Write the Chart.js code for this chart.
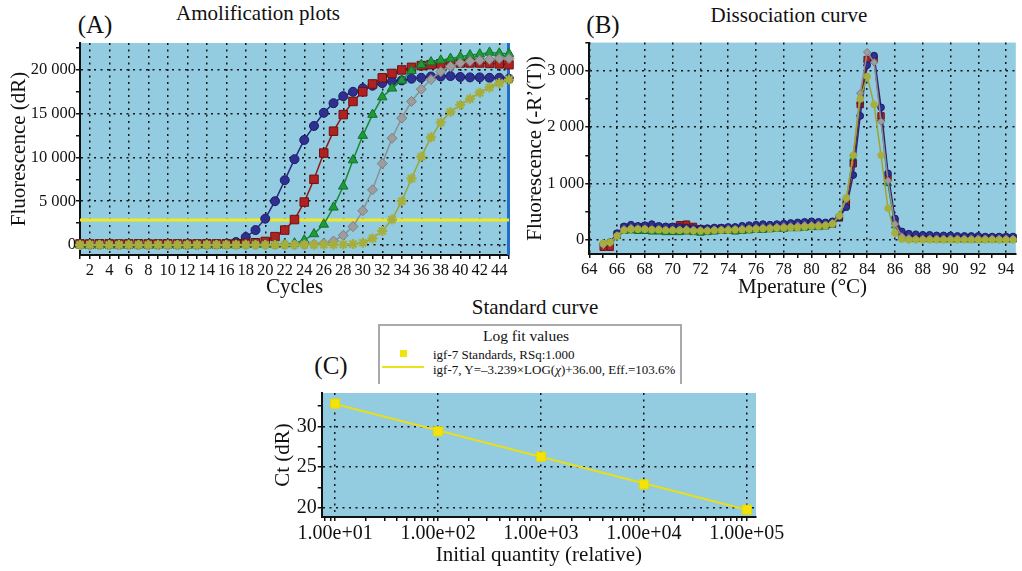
<!DOCTYPE html>
<html>
<head>
<meta charset="utf-8">
<script src="https://cdn.jsdelivr.net/npm/chart.js@4.4.1/dist/chart.umd.min.js"></script>
<style>
  html, body { margin: 0; background: #fff; }
  body { width: 1022px; height: 571px; position: relative; overflow: hidden;
         font-family: 'Liberation Serif', 'Times New Roman', serif; color: #111; }
  .panel { position: absolute; }
  .lbl { position: absolute; transform: translate(-50%, -50%); white-space: nowrap; line-height: 1; }
  .letter { font-size: 25px; }
  .ttl { font-size: 21px; }
  #legend-c { position: absolute; left: 378px; top: 324px; width: 300px; height: 58px;
              border: 2px solid #a9a9a9; border-bottom: none; background: #fff; z-index: 2; }
  #legend-c .t { position: absolute; left: 146px; top: 10px; transform: translate(-50%, -50%);
                 font-size: 15.5px; line-height: 1; white-space: nowrap; }
  #legend-c .row { position: absolute; left: 53px; transform: translateY(-50%);
                   font-size: 13px; line-height: 1; white-space: nowrap; }
  #legend-c .mark { position: absolute; left: 20px; top: 24px; width: 7px; height: 7px; background: #f0e40a; }
  #legend-c .line { position: absolute; left: 2px; top: 40px; width: 42px; height: 2px; background: #ece21c; }
</style>
</head>
<body>

<div class="lbl letter" style="left:95px;top:23.5px">(A)</div>
<div class="lbl ttl" style="left:258px;top:13px">Amolification plots</div>
<div class="lbl letter" style="left:603px;top:23.5px">(B)</div>
<div class="lbl ttl" style="left:789px;top:14.5px">Dissociation curve</div>
<div class="lbl ttl" style="left:535px;top:306.5px">Standard curve</div>
<div class="lbl letter" style="left:331px;top:365px">(C)</div>

<div id="legend-c">
  <div class="t">Log fit values</div>
  <div class="mark"></div>
  <div class="row" style="top:28px">igf-7 Standards, RSq:1.000</div>
  <div class="line"></div>
  <div class="row" style="top:43px">igf-7, Y=–3.239×LOG(<i>χ</i>)+36.00, Eff.=103.6%</div>
</div>

<div class="panel" style="left:0;top:0;width:530px;height:300px"><canvas id="chart-amp"></canvas></div>
<div class="panel" style="left:520px;top:0;width:502px;height:300px"><canvas id="chart-diss"></canvas></div>
<div class="panel" style="left:250px;top:380px;width:540px;height:191px"><canvas id="chart-std"></canvas></div>

<script>
// (A) amplification plots, fluorescence (dR) per cycle
const cycles = [1, 2, 3, 4, 5, 6, 7, 8, 9, 10, 11, 12, 13, 14, 15, 16, 17, 18, 19, 20, 21, 22, 23,
  24, 25, 26, 27, 28, 29, 30, 31, 32, 33, 34, 35, 36, 37, 38, 39, 40, 41, 42, 43, 44, 45]
const ampBlue  = [60, 40, 50, 40, 30, 50, 40, 30, 40, 50, 40, 30, 40, 60, 80, 150, 330, 900, 1700, 3000,
  5000, 7400, 9800, 12000, 13600, 15100, 16200, 17000, 17500, 17900, 18200, 18500, 18700, 18800, 19000,
  19100, 19250, 19250, 19300, 19200, 19150, 19150, 19100, 19100, 19000]
const ampRed   = [120, 110, 130, 120, 110, 120, 130, 110, 120, 130, 120, 110, 120, 130, 120, 130, 140, 180,
  250, 400, 950, 1700, 2900, 4900, 7500, 10500, 13000, 14900, 16400, 17500, 18400, 19100, 19600, 20000,
  20300, 20500, 20600, 20700, 20750, 20800, 20800, 20800, 20750, 20700, 20600]
const ampGreen = [20, 0, 10, 20, 0, 10, 20, 0, 10, 20, 0, 10, 20, 0, 10, 20, 30, 20, 30, 40, 50, 80,
  200, 550, 1250, 2350, 4300, 6700, 9700, 12500, 14900, 16900, 17900, 18800, 19900, 20600, 20900, 21100,
  21300, 21500, 21700, 21800, 22000, 21900, 21850]
const ampGray  = [0, -10, 10, 0, -10, 10, 0, -10, 10, 0, -10, 10, 0, -10, 0, 10, 0, -10, 0, 10, 0, 10, 20,
  40, 80, 180, 450, 1100, 2100, 3900, 6300, 9300, 12200, 14500, 16400, 17800, 18900, 19800, 20400, 20800,
  21000, 21100, 21200, 21300, 21300]
const ampOlive = [0, 10, 0, -10, 0, 10, 0, -10, 0, 10, 0, -10, 0, 10, 0, -10, 0, 10, 0, -10, 0, 10, 0, 0,
  10, 20, 30, 50, 100, 250, 750, 1600, 2900, 5000, 7600, 10100, 12300, 14000, 15200, 16000, 16700, 17400,
  18000, 18500, 18900]
const threshold = 2850
const ampXLabels = [2, 4, 6, 8, 10, 12, 14, 16, 18, 20, 22, 24, 26, 28, 30, 32, 34, 36, 38, 40, 42, 44]
const ampYTicks = [0, 2500, 5000, 7500, 10000, 12500, 15000, 17500, 20000, 22500]
const ampYLabels = [0, 5000, 10000, 15000, 20000]

// (B) dissociation curve, -R'(T) per temperature
const temps = [65, 65.5, 66, 66.5, 67, 67.5, 68, 68.5, 69, 69.5, 70, 70.5, 71, 71.5, 72, 72.5, 73, 73.5,
  74, 74.5, 75, 75.5, 76, 76.5, 77, 77.5, 78, 78.5, 79, 79.5, 80, 80.5, 81, 81.5, 82, 82.5, 83, 83.5, 84,
  84.5, 85, 85.5, 86, 86.5, 87, 87.5, 88, 88.5, 89, 89.5, 90, 90.5, 91, 91.5, 92, 92.5, 93, 93.5, 94, 94.5]
const dissBlue  = [-70, -40, 120, 240, 270, 250, 260, 280, 250, 240, 240, 230, 220, 210, 200, 210, 220, 220,
  230, 230, 250, 260, 270, 280, 270, 280, 290, 300, 310, 320, 330, 320, 310, 330, 400, 580, 1150, 2200, 3100,
  3270, 2350, 1180, 380, 150, 110, 100, 90, 90, 80, 80, 80, 70, 70, 70, 70, 60, 60, 60, 60, 60]
const dissRed   = [-130, -130, 100, 220, 240, 230, 240, 220, 230, 220, 230, 270, 280, 240, 200, 190, 200, 210,
  200, 200, 210, 220, 230, 240, 230, 240, 250, 260, 260, 270, 280, 270, 270, 290, 390, 650, 1350, 2400, 3200,
  3200, 2200, 1100, 330, 90, 60, 50, 50, 50, 40, 40, 40, 40, 40, 40, 40, 40, 40, 40, 40, 40]
const dissGreen = [-60, -50, 60, 150, 160, 150, 150, 140, 140, 130, 130, 130, 140, 130, 120, 130, 140, 150,
  150, 140, 150, 160, 170, 170, 180, 190, 190, 200, 200, 210, 220, 220, 230, 260, 410, 700, 1450, 2450, 3200,
  3200, 2150, 1000, 250, 40, 20, 10, 10, 10, 0, 0, 0, 0, 0, 0, 0, 0, 0, 0, 0, 0]
const dissGray  = [-90, -60, 80, 190, 210, 200, 200, 190, 190, 180, 180, 180, 190, 180, 170, 170, 180, 180,
  190, 190, 200, 200, 210, 220, 220, 230, 240, 240, 250, 260, 260, 270, 270, 300, 430, 720, 1500, 2600, 3330,
  3150, 2100, 1050, 280, 60, 30, 20, 20, 20, 20, 20, 20, 20, 20, 20, 20, 20, 20, 20, 20, 20]
const dissOlive = [-60, -40, 70, 170, 190, 190, 190, 180, 180, 170, 170, 170, 170, 160, 160, 160, 170, 170,
  170, 180, 180, 190, 190, 200, 200, 210, 210, 220, 220, 230, 240, 240, 250, 280, 430, 750, 1500, 2500, 2900,
  2400, 1500, 560, 120, 10, 0, 0, 0, 0, 0, 0, 0, 0, 0, 0, 0, 0, 0, 0, 0, 0]
const dissXTicks = [64, 65, 66, 67, 68, 69, 70, 71, 72, 73, 74, 75, 76, 77, 78, 79, 80, 81, 82, 83, 84, 85,
  86, 87, 88, 89, 90, 91, 92, 93, 94]
const dissYTicks = [0, 500, 1000, 1500, 2000, 2500, 3000, 3500]

// (C) standard curve
const quantity = [10, 100, 1000, 10000, 100000]
const ctValues = [32.8, 29.4, 26.3, 22.9, 19.8]
const fitX = [10, 100000]
const fitY = [32.76, 19.80]
const stdXTicks  = [10, 100, 1000, 10000, 100000]
const stdXLabels = ['1.00e+01', '1.00e+02', '1.00e+03', '1.00e+04', '1.00e+05']
const stdYTicks  = [20, 22.5, 25, 27.5, 30, 32.5]

const SERIF = "'Liberation Serif', 'Times New Roman', serif"
const PLOT_BG = '#93cce0'
const SERIES = {
  blue:  { fill: '#2f2f90', edge: '#1c1c66', line: '#26267a', style: 'circle',   r: 4.5 },
  red:   { fill: '#b02222', edge: '#6e1010', line: '#8e1818', style: 'rect',     r: 6 },
  green: { fill: '#1f9a3a', edge: '#137028', line: '#1a8a32', style: 'triangle', r: 5.5 },
  gray:  { fill: '#9d9d9d', edge: '#7f7f7f', line: '#8f8f8f', style: 'rectRot',  r: 5 },
  olive: { fill: '#a6ae3c', edge: '#8f9a2c', line: '#9ca534', style: 'star',     r: 5 }
}

Chart.defaults.font.family = SERIF
Chart.defaults.color = '#111'

const plotBg = {
  id: 'plotBg',
  beforeDraw(chart, args, opts) {
    const { ctx, chartArea: a } = chart
    ctx.save()
    ctx.fillStyle = opts.color
    ctx.fillRect(a.left, a.top, a.right - a.left, a.bottom - a.top)
    ctx.restore()
  }
}

const cursorLine = {
  id: 'cursorLine',
  beforeDatasetsDraw(chart, args, opts) {
    const { ctx, chartArea: a } = chart
    const x = chart.scales.x.getPixelForValue(opts.value)
    ctx.save()
    ctx.strokeStyle = opts.color
    ctx.lineWidth = 3
    ctx.beginPath()
    ctx.moveTo(x - 0.5, a.top)
    ctx.lineTo(x - 0.5, a.bottom)
    ctx.stroke()
    ctx.restore()
  }
}

const axisBorder = { display: true, color: '#111', width: 2, dash: [2, 4.5] }

function gridFor(isMajor) {
  return {
    color: c => (c.tick && isMajor(c.tick.value)) ? '#151515' : 'rgba(0,0,0,0)',
    lineWidth: 1.5,
    tickColor: '#111',
    tickLength: 4,
    tickWidth: 1.5
  }
}

function font(size, lineHeight) {
  return { family: SERIF, size, lineHeight: lineHeight || 1.2 }
}

function fmtThousands(v) {
  return String(v).replace(/\B(?=(\d{3})+(?!\d))/g, ' ')
}

function seriesDataset(s, xs, ys, scale) {
  return {
    data: xs.map((x, i) => ({ x, y: ys[i] })),
    borderColor: s.line,
    borderWidth: 1.5,
    pointStyle: s.style,
    pointRadius: s.r * scale,
    pointBackgroundColor: s.fill,
    pointBorderColor: s.style === 'star' ? s.fill : s.edge,
    pointBorderWidth: s.style === 'star' ? 2.2 : 1,
    tension: 0,
    clip: false
  }
}

const baseOptions = {
  responsive: true,
  maintainAspectRatio: false,
  animation: false,
  events: [],
  plugins: { legend: { display: false }, tooltip: { enabled: false } }
}

function renderAmplification() {
  const ctx = document.getElementById('chart-amp').getContext('2d')
  new Chart(ctx, {
    type: 'line',
    data: {
      datasets: [
        seriesDataset(SERIES.olive, cycles, ampOlive, 1),
        seriesDataset(SERIES.gray, cycles, ampGray, 1),
        seriesDataset(SERIES.green, cycles, ampGreen, 1),
        seriesDataset(SERIES.red, cycles, ampRed, 1),
        seriesDataset(SERIES.blue, cycles, ampBlue, 1),
        {
          data: [{ x: cycles[0], y: threshold }, { x: cycles[cycles.length - 1], y: threshold }],
          borderColor: '#f3e81c', borderWidth: 3, pointRadius: 0
        }
      ]
    },
    options: {
      ...baseOptions,
      layout: { padding: { top: 43, right: 21, left: 0, bottom: 0 } },
      plugins: { ...baseOptions.plugins, plotBg: { color: PLOT_BG }, cursorLine: { value: 45, color: '#1f6fc6' } },
      scales: {
        x: {
          type: 'linear', min: 1, max: 45,
          afterBuildTicks: s => { s.ticks = cycles.map(v => ({ value: v })) },
          afterFit: s => { s.height = 45 },
          ticks: { autoSkip: false, maxRotation: 0, padding: 2, font: font(16.5),
                   callback: v => ampXLabels.includes(v) ? String(v) : '' },
          grid: gridFor(v => ampXLabels.includes(v)),
          border: axisBorder,
          title: { display: true, text: 'Cycles', font: font(21, 1), padding: { top: 0, bottom: 2 } }
        },
        y: {
          min: -1150, max: 23080,
          afterBuildTicks: s => { s.ticks = ampYTicks.map(v => ({ value: v })) },
          afterFit: s => { s.width = 80 },
          ticks: { autoSkip: false, padding: 0, font: font(16.5),
                   callback: v => ampYLabels.includes(v) ? fmtThousands(v) : '' },
          grid: gridFor(v => ampYLabels.includes(v)),
          border: axisBorder,
          title: { display: true, text: 'Fluorescence (dR)', font: font(21, 1), padding: { top: 8.5, bottom: 0 } }
        }
      }
    },
    plugins: [plotBg, cursorLine]
  })
}

function renderDissociation() {
  const ctx = document.getElementById('chart-diss').getContext('2d')
  new Chart(ctx, {
    type: 'line',
    data: {
      datasets: [
        seriesDataset(SERIES.olive, temps, dissOlive, 0.75),
        seriesDataset(SERIES.gray, temps, dissGray, 0.75),
        seriesDataset(SERIES.blue, temps, dissBlue, 0.75),
        seriesDataset(SERIES.red, temps, dissRed, 0.75),
        seriesDataset(SERIES.green, temps, dissGreen, 0.75)
      ]
    },
    options: {
      ...baseOptions,
      layout: { padding: { top: 42.6, right: 2, left: 0, bottom: 0 } },
      plugins: { ...baseOptions.plugins, plotBg: { color: PLOT_BG } },
      scales: {
        x: {
          type: 'linear', min: 64, max: 94.7,
          afterBuildTicks: s => { s.ticks = dissXTicks.map(v => ({ value: v })) },
          afterFit: s => { s.height = 46 },
          ticks: { autoSkip: false, maxRotation: 0, padding: 2, font: font(16.5),
                   callback: v => v % 2 === 0 ? String(v) : '' },
          grid: gridFor(v => v % 2 === 0),
          border: axisBorder,
          title: { display: true, text: 'Mperature (°C)', font: font(21, 1), padding: { top: 0, bottom: 2 } }
        },
        y: {
          min: -250, max: 3500,
          afterBuildTicks: s => { s.ticks = dissYTicks.map(v => ({ value: v })) },
          afterFit: s => { s.width = 69.3 },
          ticks: { autoSkip: false, padding: 1, font: font(16.5),
                   callback: v => (v % 1000 === 0 && v < 3500) ? fmtThousands(v) : '' },
          grid: gridFor(v => v % 1000 === 0 && v < 3500),
          border: axisBorder,
          title: { display: true, text: 'Fluorescence (-R’(T))', font: font(21, 1), padding: { top: 4.5, bottom: 0 } }
        }
      }
    },
    plugins: [plotBg]
  })
}

function renderStandard() {
  const ctx = document.getElementById('chart-std').getContext('2d')
  // minor log ticks 2..9 in each decade inside the axis range
  const minor = []
  for (let d = 1; d <= 100000; d *= 10) {
    for (let k = 2; k <= 9; k++) {
      const v = d * k
      if (v > 7.4 && v < 123000) minor.push(v)
    }
  }
  const allTicks = [...stdXTicks, ...minor].sort((a, b) => a - b)
  new Chart(ctx, {
    type: 'line',
    data: {
      datasets: [
        {
          data: quantity.map((q, i) => ({ x: q, y: ctValues[i] })),
          showLine: false, pointStyle: 'rect', pointRadius: 6.5,
          pointBackgroundColor: '#f2e40a', pointBorderColor: '#e6d800', pointBorderWidth: 1, clip: false
        },
        {
          data: fitX.map((q, i) => ({ x: q, y: fitY[i] })),
          borderColor: '#e8de1c', borderWidth: 2, pointRadius: 0
        }
      ]
    },
    options: {
      ...baseOptions,
      layout: { padding: { top: 10, right: 34, left: 0, bottom: 0 } },
      plugins: { ...baseOptions.plugins, plotBg: { color: PLOT_BG } },
      scales: {
        x: {
          type: 'logarithmic', min: 7.4, max: 123000,
          afterBuildTicks: s => { s.ticks = allTicks.map(v => ({ value: v })) },
          afterFit: s => { s.height = 54 },
          ticks: { autoSkip: false, maxRotation: 0, padding: 1, font: font(20),
                   callback: v => { const i = stdXTicks.indexOf(v); return i >= 0 ? stdXLabels[i] : '' } },
          grid: gridFor(v => stdXTicks.includes(v)),
          border: axisBorder,
          title: { display: true, text: 'Initial quantity (relative)', font: font(21, 1), padding: { top: 0, bottom: 5.5 } }
        },
        y: {
          min: 18.9, max: 34.1,
          afterBuildTicks: s => { s.ticks = stdYTicks.map(v => ({ value: v })) },
          afterFit: s => { s.width = 71.7 },
          ticks: { autoSkip: false, padding: 1, font: font(20),
                   callback: v => v % 5 === 0 ? String(v) : '' },
          grid: gridFor(v => v % 5 === 0),
          border: axisBorder,
          title: { display: true, text: 'Ct (dR)', font: font(21, 1), padding: { top: 22.5, bottom: 0 } }
        }
      }
    },
    plugins: [plotBg]
  })
}

renderAmplification()
renderDissociation()
renderStandard()
</script>
</body>
</html>
